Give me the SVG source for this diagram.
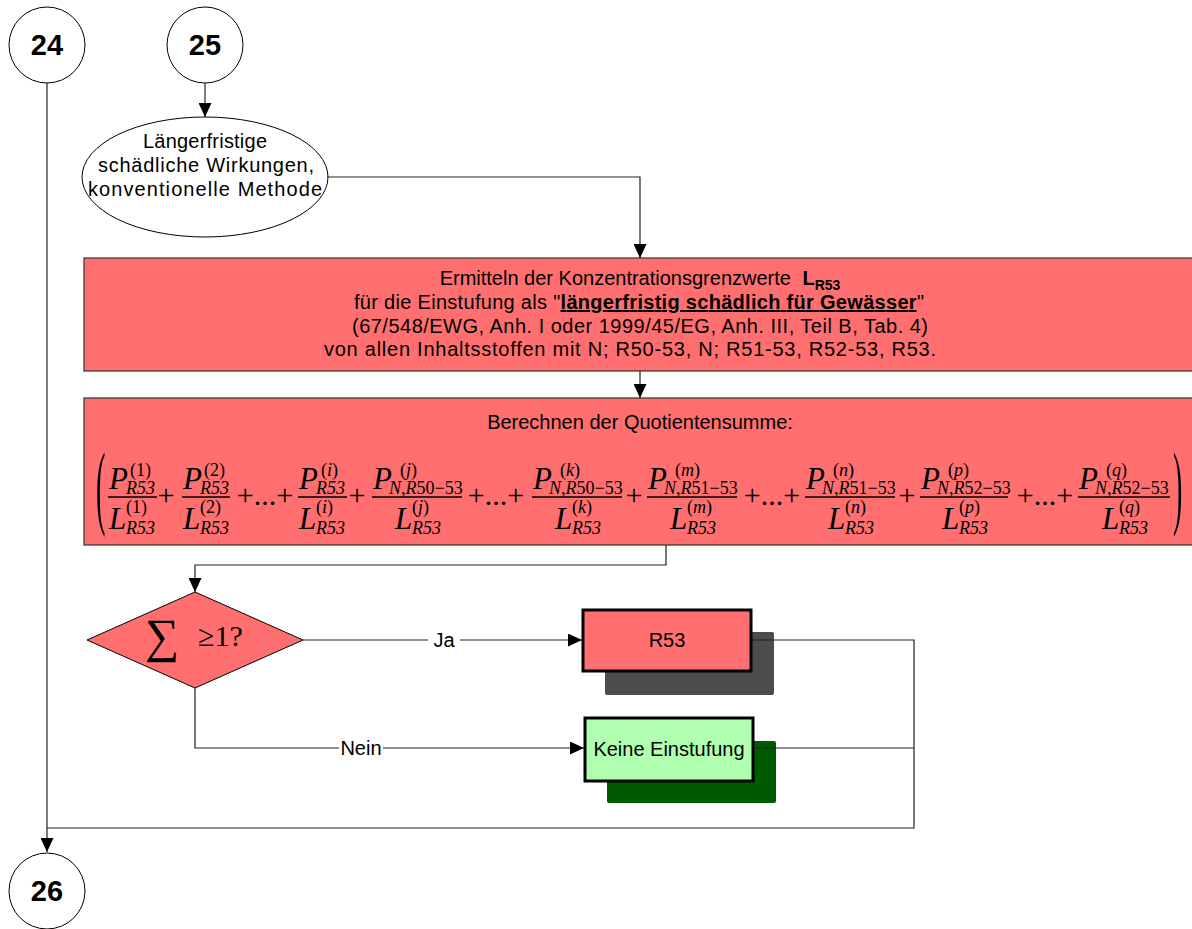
<svg xmlns="http://www.w3.org/2000/svg" width="1192" height="929" viewBox="0 0 1192 929">
<defs>
<marker id="ah" markerUnits="userSpaceOnUse" markerWidth="14" markerHeight="13" refX="14" refY="6.5" orient="auto">
<path d="M0,0 L14,6.5 L0,13 z" fill="#000"/>
</marker>
<style>
.t{font-family:"Liberation Sans",Arial,sans-serif;font-size:20px;fill:#000}
.num{font-family:"Liberation Sans",Arial,sans-serif;font-size:29px;font-weight:bold;fill:#000}
.c{text-anchor:middle}
.ln{fill:none;stroke:#222;stroke-width:1.2}
.red{fill:#ff6f6f;stroke:#333;stroke-width:1.2}
.m{font-family:"Liberation Serif","Times New Roman",serif;font-style:italic;font-size:31px;fill:#000}
.s{font-family:"Liberation Serif","Times New Roman",serif;font-style:italic;font-size:18px;fill:#000}
.op{font-family:"Liberation Serif","Times New Roman",serif;font-size:30px;fill:#000;text-anchor:middle}
.par{font-family:"Liberation Serif","Times New Roman",serif;font-size:94px;fill:#000}
.u{font-style:normal}
.fl{stroke:#000;stroke-width:1.3}
</style>
</defs>
<rect width="1192" height="929" fill="#fff"/>

<g id="node-24"><circle cx="47" cy="45" r="38" fill="#fff" stroke="#000" stroke-width="1"/><text class="num c" x="47" y="55">24</text></g>
<g id="node-25"><circle cx="205" cy="45" r="38" fill="#fff" stroke="#000" stroke-width="1"/><text class="num c" x="205" y="55">25</text></g>
<g id="node-26"><circle cx="47" cy="891" r="38" fill="#fff" stroke="#000" stroke-width="1"/><text class="num c" x="47" y="901">26</text></g>

<g id="node-start">
<ellipse cx="205" cy="177" rx="123" ry="60" fill="#fff" stroke="#000" stroke-width="1"/>
<text class="t c" x="205" y="148" font-size="21" textLength="124" lengthAdjust="spacing">Längerfristige</text>
<text class="t c" x="206" y="172" font-size="21" textLength="216" lengthAdjust="spacing">schädliche Wirkungen,</text>
<text class="t c" x="205" y="196" font-size="21" textLength="234" lengthAdjust="spacing">konventionelle Methode</text>
</g>

<g id="node-ermitteln">
<rect class="red" x="84" y="258" width="1112" height="113"/>
<text class="t c" x="640" y="285">Ermitteln der Konzentrationsgrenzwerte <tspan dx="6" font-weight="bold">L</tspan><tspan font-weight="bold" font-size="14" dy="5">R53</tspan></text>
<text class="t c" x="639" y="309" textLength="570" lengthAdjust="spacing">für die Einstufung als "<tspan font-weight="bold" text-decoration="underline">längerfristig schädlich für Gewässer</tspan>"</text>
<text class="t c" x="640" y="333" textLength="576" lengthAdjust="spacing">(67/548/EWG, Anh. I oder 1999/45/EG, Anh. III, Teil B, Tab. 4)</text>
<text class="t c" x="630" y="356" textLength="612" lengthAdjust="spacing">von allen Inhaltsstoffen mit N; R50-53, N; R51-53, R52-53, R53.</text>
</g>

<g id="node-berechnen">
<rect class="red" x="84" y="398" width="1112" height="147"/>
<text class="t c" x="640" y="429">Berechnen der Quotientensumme:</text>
<g id="formula">
<text class="par" transform="translate(96,517) scale(0.3,1)">(</text>
<text class="par" transform="translate(1173,517) scale(0.3,1)">)</text>
<line class="fl" x1="108" y1="497" x2="157" y2="497"/>
<line class="fl" x1="182" y1="497" x2="230" y2="497"/>
<line class="fl" x1="298" y1="497" x2="347" y2="497"/>
<line class="fl" x1="372" y1="497" x2="462" y2="497"/>
<line class="fl" x1="532" y1="497" x2="622" y2="497"/>
<line class="fl" x1="647" y1="497" x2="737" y2="497"/>
<line class="fl" x1="805" y1="497" x2="895" y2="497"/>
<line class="fl" x1="920" y1="497" x2="1008" y2="497"/>
<line class="fl" x1="1078" y1="497" x2="1170" y2="497"/>
<!-- F1 -->
<text class="m" x="109" y="489">P</text><text class="s" x="130" y="476"><tspan class="u">(1)</tspan></text><text class="s" x="126" y="494">R53</text>
<text class="m" x="109" y="529">L</text><text class="s" x="126" y="513"><tspan class="u">(1)</tspan></text><text class="s" x="126" y="534">R53</text>
<!-- F2 -->
<text class="m" x="183" y="489">P</text><text class="s" x="204" y="476"><tspan class="u">(2)</tspan></text><text class="s" x="200" y="494">R53</text>
<text class="m" x="183" y="529">L</text><text class="s" x="200" y="513"><tspan class="u">(2)</tspan></text><text class="s" x="200" y="534">R53</text>
<!-- F3 -->
<text class="m" x="299" y="489">P</text><text class="s" x="321" y="476"><tspan class="u">(</tspan>i<tspan class="u">)</tspan></text><text class="s" x="316" y="494">R53</text>
<text class="m" x="299" y="529">L</text><text class="s" x="316" y="513"><tspan class="u">(</tspan>i<tspan class="u">)</tspan></text><text class="s" x="316" y="534">R53</text>
<!-- F4 -->
<text class="m" x="373" y="489">P</text><text class="s" x="400" y="476"><tspan class="u">(</tspan>j<tspan class="u">)</tspan></text><text class="s" x="389" y="494">N<tspan class="u">,</tspan>R<tspan class="u">50−53</tspan></text>
<text class="m" x="395" y="529">L</text><text class="s" x="412" y="513"><tspan class="u">(</tspan>j<tspan class="u">)</tspan></text><text class="s" x="412" y="534">R53</text>
<!-- F5 -->
<text class="m" x="533" y="489">P</text><text class="s" x="560" y="476"><tspan class="u">(</tspan>k<tspan class="u">)</tspan></text><text class="s" x="549" y="494">N<tspan class="u">,</tspan>R<tspan class="u">50−53</tspan></text>
<text class="m" x="555" y="529">L</text><text class="s" x="572" y="513"><tspan class="u">(</tspan>k<tspan class="u">)</tspan></text><text class="s" x="572" y="534">R53</text>
<!-- F6 -->
<text class="m" x="648" y="489">P</text><text class="s" x="675" y="476"><tspan class="u">(</tspan>m<tspan class="u">)</tspan></text><text class="s" x="664" y="494">N<tspan class="u">,</tspan>R<tspan class="u">51−53</tspan></text>
<text class="m" x="670" y="529">L</text><text class="s" x="687" y="513"><tspan class="u">(</tspan>m<tspan class="u">)</tspan></text><text class="s" x="687" y="534">R53</text>
<!-- F7 -->
<text class="m" x="806" y="489">P</text><text class="s" x="833" y="476"><tspan class="u">(</tspan>n<tspan class="u">)</tspan></text><text class="s" x="822" y="494">N<tspan class="u">,</tspan>R<tspan class="u">51−53</tspan></text>
<text class="m" x="828" y="529">L</text><text class="s" x="845" y="513"><tspan class="u">(</tspan>n<tspan class="u">)</tspan></text><text class="s" x="845" y="534">R53</text>
<!-- F8 -->
<text class="m" x="921" y="489">P</text><text class="s" x="948" y="476"><tspan class="u">(</tspan>p<tspan class="u">)</tspan></text><text class="s" x="937" y="494">N<tspan class="u">,</tspan>R<tspan class="u">52−53</tspan></text>
<text class="m" x="942" y="529">L</text><text class="s" x="959" y="513"><tspan class="u">(</tspan>p<tspan class="u">)</tspan></text><text class="s" x="959" y="534">R53</text>
<!-- F9 -->
<text class="m" x="1079" y="489">P</text><text class="s" x="1106" y="476"><tspan class="u">(</tspan>q<tspan class="u">)</tspan></text><text class="s" x="1095" y="494">N<tspan class="u">,</tspan>R<tspan class="u">52−53</tspan></text>
<text class="m" x="1102" y="529">L</text><text class="s" x="1119" y="513"><tspan class="u">(</tspan>q<tspan class="u">)</tspan></text><text class="s" x="1119" y="534">R53</text>
<!-- operators -->
<text class="op" x="166" y="505">+</text>
<text class="op" x="265" y="505">+...+</text>
<text class="op" x="357" y="505">+</text>
<text class="op" x="496" y="505">+...+</text>
<text class="op" x="634" y="505">+</text>
<text class="op" x="772" y="505">+...+</text>
<text class="op" x="907" y="505">+</text>
<text class="op" x="1045" y="505">+...+</text>
</g>
</g>

<g id="node-decision">
<polygon points="87,640 195,592 303,640 195,688" fill="#ff6f6f" stroke="#000" stroke-width="1"/>
<text x="145" y="652" font-family="'Liberation Serif','Times New Roman',serif" font-size="48" fill="#000">∑</text>
<text x="198" y="646" font-family="'Liberation Serif','Times New Roman',serif" font-size="30" fill="#000">≥1?</text>
</g>

<g id="node-r53">
<rect x="605" y="632" width="169" height="63" rx="2" fill="#4d4d4d"/>
<rect x="583" y="610" width="168" height="61" fill="#ff6f6f" stroke="#000" stroke-width="3"/>
<text class="t c" x="667" y="647" font-size="20">R53</text>
</g>

<g id="node-keine">
<rect x="607" y="741" width="169" height="62" rx="2" fill="#005a00"/>
<rect x="585" y="718" width="168" height="63" fill="#b0ffb0" stroke="#000" stroke-width="3"/>
<text class="t c" x="669" y="756" font-size="20">Keine Einstufung</text>
</g>

<g id="connectors">
<path class="ln" d="M47,83 V852" marker-end="url(#ah)"/>
<path class="ln" d="M205,83 V117" marker-end="url(#ah)"/>
<path class="ln" d="M327,177 H640 V258" marker-end="url(#ah)"/>
<path class="ln" d="M640,371 V398" marker-end="url(#ah)"/>
<path class="ln" d="M666,545 V565 H195 V592" marker-end="url(#ah)"/>
<path class="ln" d="M303,640 H582" marker-end="url(#ah)"/>
<path class="ln" d="M195,688 V748 H584" marker-end="url(#ah)"/>
<path class="ln" d="M752,640 H914 V828 H47"/>
<path class="ln" d="M754,748 H914"/>
<rect x="428" y="628" width="32" height="24" fill="#fff"/>
<text class="t c" x="444" y="647" font-size="19">Ja</text>
<rect x="339" y="736" width="44" height="24" fill="#fff"/>
<text class="t c" x="361" y="755" font-size="19">Nein</text>
</g>
</svg>
